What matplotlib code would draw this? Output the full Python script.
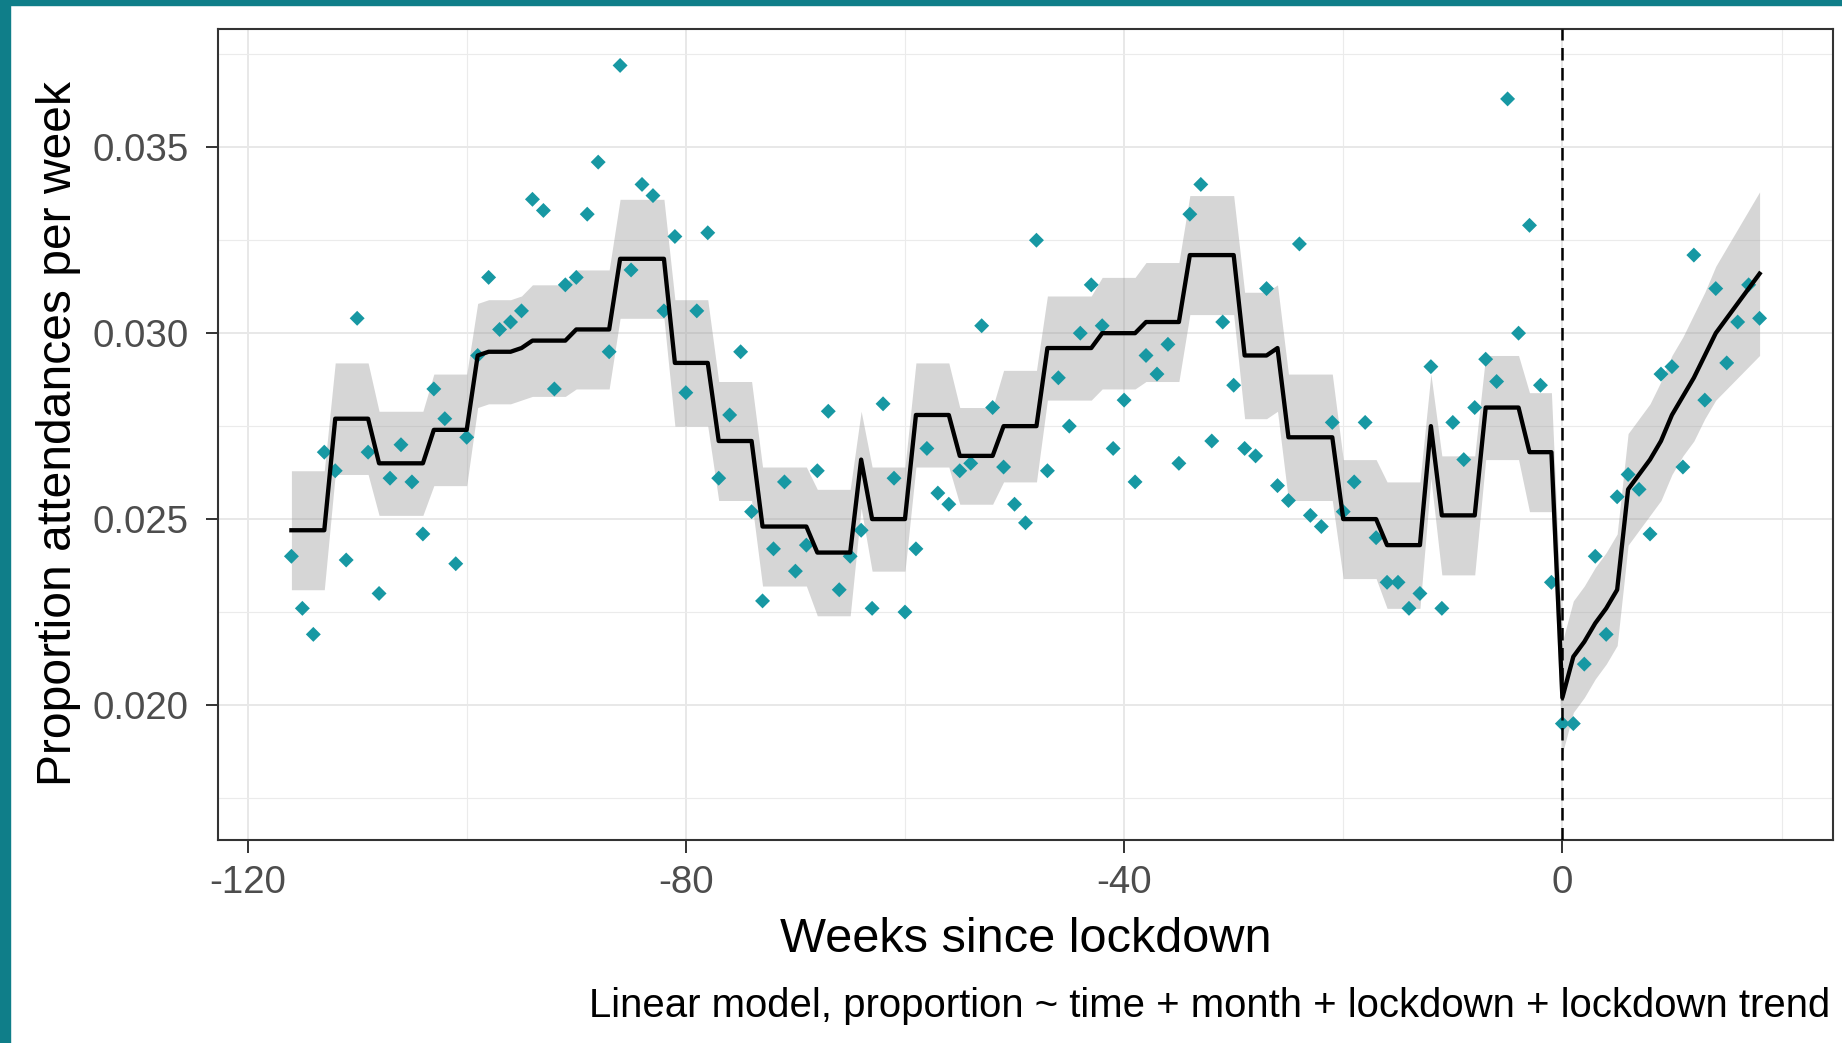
import numpy as np
import matplotlib.pyplot as plt
from matplotlib.patches import Rectangle

plt.rcParams['font.family'] = ['Liberation Sans', 'DejaVu Sans']

# weekly data, week 0 = lockdown
weeks = np.arange(-116, 19)

attendance = [
    0.0240, 0.0226, 0.0219, 0.0268, 0.0263, 0.0239, 0.0304, 0.0268, 0.0230, 0.0261,
    0.0270, 0.0260, 0.0246, 0.0285, 0.0277, 0.0238, 0.0272, 0.0294, 0.0315, 0.0301,
    0.0303, 0.0306, 0.0336, 0.0333, 0.0285, 0.0313, 0.0315, 0.0332, 0.0346, 0.0295,
    0.0372, 0.0317, 0.0340, 0.0337, 0.0306, 0.0326, 0.0284, 0.0306, 0.0327, 0.0261,
    0.0278, 0.0295, 0.0252, 0.0228, 0.0242, 0.0260, 0.0236, 0.0243, 0.0263, 0.0279,
    0.0231, 0.0240, 0.0247, 0.0226, 0.0281, 0.0261, 0.0225, 0.0242, 0.0269, 0.0257,
    0.0254, 0.0263, 0.0265, 0.0302, 0.0280, 0.0264, 0.0254, 0.0249, 0.0325, 0.0263,
    0.0288, 0.0275, 0.0300, 0.0313, 0.0302, 0.0269, 0.0282, 0.0260, 0.0294, 0.0289,
    0.0297, 0.0265, 0.0332, 0.0340, 0.0271, 0.0303, 0.0286, 0.0269, 0.0267, 0.0312,
    0.0259, 0.0255, 0.0324, 0.0251, 0.0248, 0.0276, 0.0252, 0.0260, 0.0276, 0.0245,
    0.0233, 0.0233, 0.0226, 0.0230, 0.0291, 0.0226, 0.0276, 0.0266, 0.0280, 0.0293,
    0.0287, 0.0363, 0.0300, 0.0329, 0.0286, 0.0233, 0.0195, 0.0195, 0.0211, 0.0240,
    0.0219, 0.0256, 0.0262, 0.0258, 0.0246, 0.0289, 0.0291, 0.0264, 0.0321, 0.0282,
    0.0312, 0.0292, 0.0303, 0.0313, 0.0304,
]

# fitted values of the linear model
fitted = [
    0.0247, 0.0247, 0.0247, 0.0247, 0.0277, 0.0277, 0.0277, 0.0277, 0.0265, 0.0265,
    0.0265, 0.0265, 0.0265, 0.0274, 0.0274, 0.0274, 0.0274, 0.0294, 0.0295, 0.0295,
    0.0295, 0.0296, 0.0298, 0.0298, 0.0298, 0.0298, 0.0301, 0.0301, 0.0301, 0.0301,
    0.0320, 0.0320, 0.0320, 0.0320, 0.0320, 0.0292, 0.0292, 0.0292, 0.0292, 0.0271,
    0.0271, 0.0271, 0.0271, 0.0248, 0.0248, 0.0248, 0.0248, 0.0248, 0.0241, 0.0241,
    0.0241, 0.0241, 0.0266, 0.0250, 0.0250, 0.0250, 0.0250, 0.0278, 0.0278, 0.0278,
    0.0278, 0.0267, 0.0267, 0.0267, 0.0267, 0.0275, 0.0275, 0.0275, 0.0275, 0.0296,
    0.0296, 0.0296, 0.0296, 0.0296, 0.0300, 0.0300, 0.0300, 0.0300, 0.0303, 0.0303,
    0.0303, 0.0303, 0.0321, 0.0321, 0.0321, 0.0321, 0.0321, 0.0294, 0.0294, 0.0294,
    0.0296, 0.0272, 0.0272, 0.0272, 0.0272, 0.0272, 0.0250, 0.0250, 0.0250, 0.0250,
    0.0243, 0.0243, 0.0243, 0.0243, 0.0275, 0.0251, 0.0251, 0.0251, 0.0251, 0.0280,
    0.0280, 0.0280, 0.0280, 0.0268, 0.0268, 0.0268, 0.0202, 0.0213, 0.0217, 0.0222,
    0.0226, 0.0231, 0.0258, 0.0262, 0.0266, 0.0271, 0.0278, 0.0283, 0.0288, 0.0294,
    0.0300, 0.0304, 0.0308, 0.0312, 0.0316,
]

# half width of the confidence band
ci_half = [
    0.0016, 0.0016, 0.0016, 0.0016, 0.0015, 0.0015, 0.0015, 0.0015, 0.0014, 0.0014,
    0.0014, 0.0014, 0.0014, 0.0015, 0.0015, 0.0015, 0.0015, 0.0014, 0.0014, 0.0014,
    0.0014, 0.0014, 0.0015, 0.0015, 0.0015, 0.0015, 0.0016, 0.0016, 0.0016, 0.0016,
    0.0016, 0.0016, 0.0016, 0.0016, 0.0016, 0.0017, 0.0017, 0.0017, 0.0017, 0.0016,
    0.0016, 0.0016, 0.0016, 0.0016, 0.0016, 0.0016, 0.0016, 0.0016, 0.0017, 0.0017,
    0.0017, 0.0017, 0.0013, 0.0014, 0.0014, 0.0014, 0.0014, 0.0014, 0.0014, 0.0014,
    0.0014, 0.0013, 0.0013, 0.0013, 0.0013, 0.0015, 0.0015, 0.0015, 0.0015, 0.0014,
    0.0014, 0.0014, 0.0014, 0.0014, 0.0015, 0.0015, 0.0015, 0.0015, 0.0016, 0.0016,
    0.0016, 0.0016, 0.0016, 0.0016, 0.0016, 0.0016, 0.0016, 0.0017, 0.0017, 0.0017,
    0.0017, 0.0017, 0.0017, 0.0017, 0.0017, 0.0017, 0.0016, 0.0016, 0.0016, 0.0016,
    0.0017, 0.0017, 0.0017, 0.0017, 0.0014, 0.0016, 0.0016, 0.0016, 0.0016, 0.0014,
    0.0014, 0.0014, 0.0014, 0.0016, 0.0016, 0.0016, 0.0015, 0.0015, 0.0015, 0.0015,
    0.0015, 0.0015, 0.0015, 0.0015, 0.0015, 0.0016, 0.0016, 0.0016, 0.0017, 0.0017,
    0.0018, 0.0019, 0.0020, 0.0021, 0.0022,
]

xticks = [-120, -80, -40, 0]
xtick_labels = ['-120', '-80', '-40', '0']
xminor = [-100, -60, -20, 20]
yticks = [0.020, 0.025, 0.030, 0.035]
ytick_labels = ['0.020', '0.025', '0.030', '0.035']
yminor = [0.0175, 0.0225, 0.0275, 0.0325, 0.0375]

fitted = np.array(fitted)
ci_half = np.array(ci_half)

fig = plt.figure(figsize=(18.42, 10.43), dpi=100)
fig.patches.append(Rectangle((0, 0), 10 / 1842, 1, transform=fig.transFigure,
                             color='#0f7e89', zorder=0))
fig.patches.append(Rectangle((0, 1 - 5 / 1043), 1, 5 / 1043, transform=fig.transFigure,
                             color='#0f7e89', zorder=0))

ax = fig.add_axes([218 / 1842, 1 - 840 / 1043, (1833 - 218) / 1842, (840 - 29) / 1043])

ax.fill_between(weeks, fitted - ci_half, fitted + ci_half, color='#999999',
                alpha=0.4, lw=0, zorder=1)
ax.scatter(weeks, attendance, marker='D', s=58, color='#1798a3',
           edgecolors='none', zorder=2)
ax.plot(weeks, fitted, color='black', lw=3.1, zorder=3)
ax.axvline(0, color='black', lw=1.8, linestyle=(0, (5, 3)), zorder=4)

ax.set_xlim(-122.7, 24.7)
ax.set_ylim(0.01637, 0.03818)

ax.set_xticks(xticks)
ax.set_xticklabels(xtick_labels)
ax.set_xticks(xminor, minor=True)
ax.set_yticks(yticks)
ax.set_yticklabels(ytick_labels)
ax.set_yticks(yminor, minor=True)

ax.set_axisbelow(True)
ax.grid(which='major', color='#e8e8e8', lw=1.4)
ax.grid(which='minor', color='#ebebeb', lw=0.8)

for s in ax.spines.values():
    s.set_color('#333333')
    s.set_linewidth(1.5)

ax.tick_params(which='major', length=9, width=1.4, color='#333333',
               labelsize=27.7, labelcolor='#4d4d4d')
ax.tick_params(which='minor', length=0)
ax.tick_params(axis='x', pad=9)
ax.tick_params(axis='y', pad=12)

fig.text((218 + 1833) / 2 / 1842, 1 - 939 / 1043, 'Weeks since lockdown',
         ha='center', va='center', fontsize=35.1)
fig.text(59 / 1842, 1 - 434 / 1043, 'Proportion attendances per week',
         ha='center', va='center', rotation=90, fontsize=34.6)
fig.text(1830 / 1842, 1 - 1006 / 1043,
         'Linear model, proportion ~ time + month + lockdown + lockdown trend',
         ha='right', va='center', fontsize=28.9)

fig.savefig('out.png', dpi=100)
